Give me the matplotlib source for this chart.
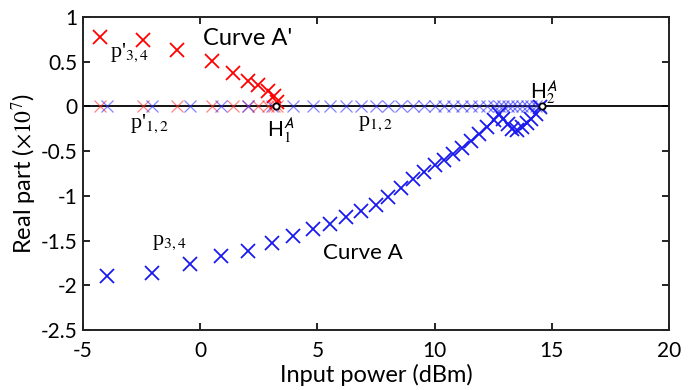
import numpy as np, matplotlib
matplotlib.use("Agg")
import matplotlib.pyplot as plt

matplotlib.rcParams.update({
    "font.family":      "Lato",
    "mathtext.fontset": "stix",
    "font.size":        15,
})

# Curve A' (red): input power (dBm) and real part (x1e7)
red_p  = [-4.27, -2.43, -1.00, 0.49, 1.41, 2.05, 2.45, 2.88, 3.15, 3.28]
red_re = [0.78, 0.74, 0.63, 0.51, 0.37, 0.29, 0.24, 0.17, 0.12, 0.05]

# Curve A (blue)
blue_p  = [-3.99, -2.07, -0.44, 0.90, 2.05, 3.05, 3.97, 4.80, 5.54, 6.22,
           6.87, 7.48, 8.03, 8.55, 9.07, 9.55, 10.00, 10.42, 10.80, 11.18,
           11.55, 11.90, 12.22, 12.52, 12.75, 12.92, 13.12, 13.32, 13.52,
           13.72, 13.93, 14.13, 14.32, 14.50]
blue_re = [-1.90, -1.86, -1.76, -1.67, -1.62, -1.53, -1.45, -1.37, -1.31, -1.24,
           -1.17, -1.10, -1.01, -0.91, -0.81, -0.73, -0.66, -0.60, -0.53, -0.46,
           -0.39, -0.31, -0.23, -0.15, -0.08, -0.14, -0.20, -0.25, -0.26,
           -0.23, -0.19, -0.14, -0.08, -0.01]

# Hopf points
hopf_p = [3.23, 14.57]
hopf_re = [0.0, 0.0]

fig = plt.figure(figsize=(6.88, 3.90), dpi=100)
ax = fig.add_axes([0.1206, 0.1538, 0.8518, 0.8026])

ax.axhline(0, color="black", linewidth=1.3, zorder=1)

# poles sitting on the real-part-zero line (p'1,2 and p1,2)
ax.plot(red_p, np.zeros(len(red_p)), "x", color="#ff3030", ms=8, mew=0.9,
        alpha=0.6, zorder=2)
ax.plot(blue_p, np.zeros(len(blue_p)), "x", color="#3030ff", ms=8, mew=0.9,
        alpha=0.6, zorder=2)

# complex pole pairs
ax.plot(red_p, red_re, "x", color="red", ms=9.5, mew=1.3, zorder=3)
ax.plot(blue_p, blue_re, "x", color="#1a1aee", ms=9.5, mew=1.3, zorder=3)

ax.plot(hopf_p, hopf_re, "o", mfc="white", mec="black", ms=4.5, mew=1.3,
        zorder=4)

ax.set_xlim(-5, 20)
ax.set_ylim(-2.5, 1)
ax.set_xticks([-5, 0, 5, 10, 15, 20])
ax.set_yticks([-2.5, -2, -1.5, -1, -0.5, 0, 0.5, 1])
ax.set_yticklabels(["-2.5", "-2", "-1.5", "-1", "-0.5", "0", "0.5", "1"])
ax.set_xticklabels(["-5", "0", "5", "10", "15", "20"])
ax.tick_params(direction="in", top=True, right=True, length=5, width=1.2,
               labelsize=15, colors="black")
ax.tick_params(axis="x", pad=8)
ax.tick_params(axis="y", pad=4)
for s in ax.spines.values():
    s.set_linewidth(1.4)
    s.set_color("#222222")

ax.set_xlabel("Input power (dBm)", fontsize=17, labelpad=2)
ax.set_ylabel(r"Real part ($\times10^7$)", fontsize=17, labelpad=1)

# annotations
ax.text(0.12, 0.765, "Curve A'", fontsize=17, va="center")
ax.text(5.24, -1.64, "Curve A", fontsize=16, va="center")

serif = "Liberation Serif"
ax.text(-3.85, 0.60, r"p'$_{3,4}$", fontsize=16, family=serif, va="center")
ax.text(-3.0, -0.19, r"p'$_{1,2}$", fontsize=16, family=serif, va="center")
ax.text(6.73, -0.19, r"p$_{1,2}$", fontsize=16, family=serif, va="center")
ax.text(-2.05, -1.52, r"p$_{3,4}$", fontsize=16, family=serif, va="center")

ax.text(2.85, -0.28, r"H$_1^{\mathsf{A}}$", fontsize=15, va="center")
ax.text(14.05, 0.15, r"H$_2^{\mathsf{A}}$", fontsize=15, va="center")

fig.savefig("out.png", dpi=100, facecolor="white")
